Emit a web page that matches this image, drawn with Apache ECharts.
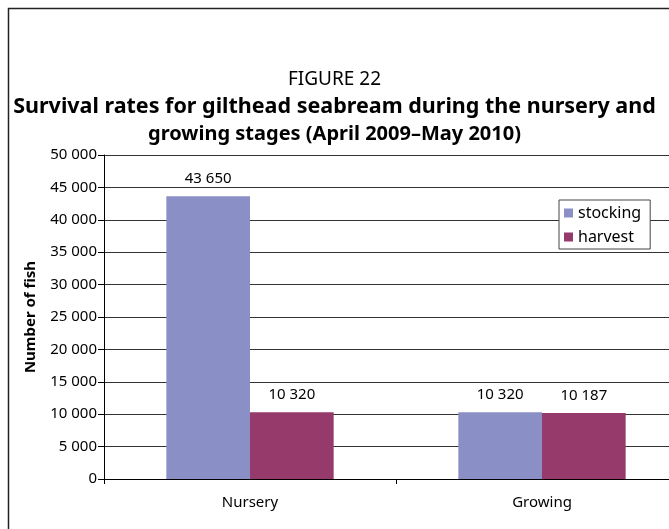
<!DOCTYPE html>
<html>
<head>
<meta charset="utf-8">
<script src="https://cdn.jsdelivr.net/npm/echarts@6/dist/echarts.min.js"></script>
<style>html,body{margin:0;padding:0;background:#fff}#c{width:669px;height:529px}</style>
</head>
<body>
<div id="c"></div>
<script>
const categories = ['Nursery', 'Growing'];
const stocking = [43650, 10320];
const harvest = [10320, 10187];
const seriesNames = ['stocking', 'harvest'];
const titleLines = ['FIGURE 22', 'Survival rates for gilthead seabream during the nursery and', 'growing stages (April 2009\u2013May 2010)'];

function fmt(v) { return String(v).replace(/\B(?=(\d{3})+(?!\d))/g, ' '); }

const FONT = '"Noto Sans", sans-serif';
const chart = echarts.init(document.getElementById('c'));
chart.setOption({
  animation: false,
  textStyle: { fontFamily: FONT, color: '#000' },
  graphic: [{
    type: 'rect', shape: { x: 8.5, y: 8.5, width: 800, height: 800 },
    style: { fill: 'none', stroke: '#222', lineWidth: 1.5 }, silent: true
  }],
  title: [{
    text: titleLines[0], left: 'center', top: 65,
    textStyle: { fontFamily: FONT, fontSize: 19, fontWeight: 'normal', color: '#000' }
  }, {
    text: titleLines[1], left: 'center', top: 91,
    textStyle: { fontFamily: FONT, fontSize: 21.5, fontWeight: 'bold', color: '#000' }
  }, {
    text: titleLines[2], left: 'center', top: 119,
    textStyle: { fontFamily: FONT, fontSize: 20, fontWeight: 'bold', color: '#000' }
  }],
  legend: {
    data: seriesNames, orient: 'vertical', left: 559, top: 200,
    padding: [4, 9, 3, 5], itemGap: 6, itemWidth: 9, itemHeight: 9, icon: 'rect',
    borderColor: '#444', borderWidth: 1, backgroundColor: '#fff',
    textStyle: { fontFamily: FONT, fontSize: 16, color: '#000', lineHeight: 18 }
  },
  grid: { left: 104, top: 155, width: 584, height: 324, containLabel: false, outerBoundsMode: 'none' },
  xAxis: {
    type: 'category', data: categories,
    axisLine: { lineStyle: { color: '#000', width: 1 } },
    axisTick: { show: true, length: 5, lineStyle: { color: '#000' } },
    axisLabel: { fontSize: 15, color: '#000', margin: 16, fontFamily: FONT }
  },
  yAxis: {
    type: 'value', min: 0, max: 50000, interval: 5000,
    name: 'Number of fish', nameLocation: 'middle', nameGap: 66, nameRotate: 90,
    nameTextStyle: { fontSize: 15, fontWeight: 'bold', color: '#000', fontFamily: FONT },
    axisLine: { show: true, lineStyle: { color: '#000' } },
    axisTick: { show: true, length: 6, lineStyle: { color: '#000' } },
    axisLabel: { fontSize: 15, color: '#000', margin: 7, fontFamily: FONT, formatter: fmt },
    splitLine: { show: true, lineStyle: { color: '#333', width: 1 } }
  },
  series: [{
    name: seriesNames[0], type: 'bar', data: stocking,
    barGap: '0%', barCategoryGap: '42.7%',
    itemStyle: { color: '#8A8FC6' },
    label: { show: true, position: 'top', distance: 10, fontSize: 15, color: '#000', fontFamily: FONT,
             formatter: p => fmt(p.value) }
  }, {
    name: seriesNames[1], type: 'bar', data: harvest,
    itemStyle: { color: '#953A6B' },
    label: { show: true, position: 'top', distance: 10, fontSize: 15, color: '#000', fontFamily: FONT,
             formatter: p => fmt(p.value) }
  }]
});
</script>
</body>
</html>
